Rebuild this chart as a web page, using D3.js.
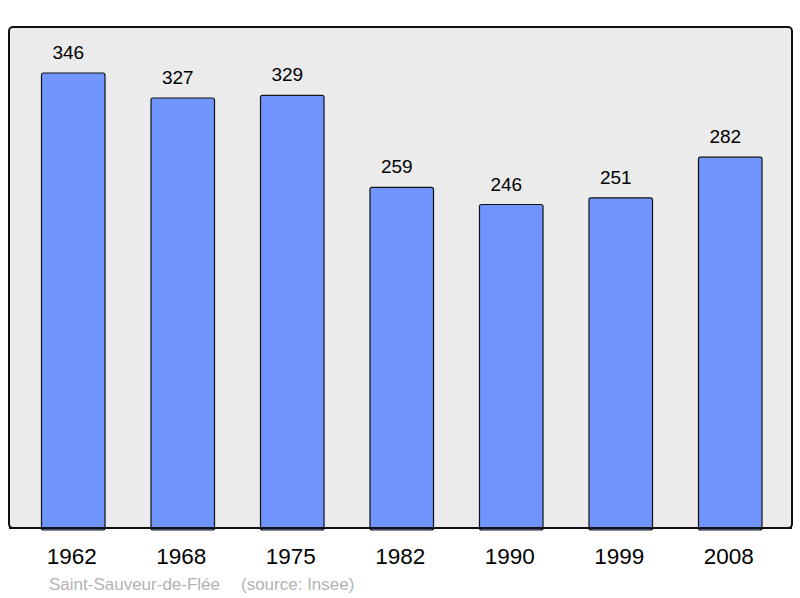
<!DOCTYPE html>
<html>
<head>
<meta charset="utf-8">
<script src="https://cdn.jsdelivr.net/npm/d3@7"></script>
<style>
  body { margin: 0; background: #fff; }
  svg text { font-family: 'Liberation Sans', Arial, sans-serif; }
</style>
</head>
<body>
<div id="chart"></div>
<script>
const years = ['1962', '1968', '1975', '1982', '1990', '1999', '2008']
const population = [346, 327, 329, 259, 246, 251, 282]
const placeName = 'Saint-Sauveur-de-Flée'
const sourceName = '(source: Insee)'

const WIDTH = 800
const HEIGHT = 598

const svg = d3.select('#chart')
  .append('svg')
  .attr('width', WIDTH)
  .attr('height', HEIGHT)

// grey panel behind the bars
svg.append('rect')
  .attr('x', 9)
  .attr('y', 27)
  .attr('width', 783)
  .attr('height', 501)
  .attr('rx', 4)
  .style('fill', '#ebebeb')
  .style('stroke', '#111')
  .style('stroke-width', 2)

const x = d3.scaleBand()
  .domain(years)
  .range([18.5, 785])
  .paddingInner(0.42)
  .paddingOuter(0.21)

const y = d3.scaleLinear()
  .domain([0, 346])
  .range([528, 73])

const data = years.map((year, i) => ({ year, value: population[i] }))

svg.selectAll('.bar')
  .data(data)
  .join('rect')
  .attr('class', 'bar')
  .attr('x', (d) => x(d.year))
  .attr('y', (d) => y(d.value))
  .attr('width', x.bandwidth())
  .attr('height', (d) => y(0) - y(d.value) + 2)
  .attr('rx', 2)
  .style('fill', '#7095ff')
  .style('stroke', '#111')
  .style('stroke-width', 1.2)

// redraw the bottom edge of the panel over the bars
svg.append('line')
  .attr('x1', 9)
  .attr('x2', 792)
  .attr('y1', 528)
  .attr('y2', 528)
  .style('stroke', '#111')
  .style('stroke-width', 2)

// value labels sit a little left of the bar centre, as in the original
svg.selectAll('.value')
  .data(data)
  .join('text')
  .attr('class', 'value')
  .attr('x', (d) => x(d.year) + x.bandwidth() / 2 - 5)
  .attr('y', (d) => y(d.value) - 14)
  .attr('text-anchor', 'middle')
  .style('font-size', '19px')
  .text((d) => d.value)

// year labels along the bottom
const xAxis = svg.append('g')
  .attr('transform', 'translate(-1.5,528)')
  .call(d3.axisBottom(x).tickSize(0).tickPadding(20))
xAxis.select('.domain').remove()
xAxis.selectAll('text')
  .attr('dy', null)
  .attr('y', 36)
  .style('font-size', '22.5px')
  .style('font-family', "'Liberation Sans', Arial, sans-serif")
  .attr('fill', '#000')

svg.append('text')
  .attr('x', 49)
  .attr('y', 590)
  .style('font-size', '17px')
  .style('fill', '#b3b3b3')
  .text(placeName)

svg.append('text')
  .attr('x', 241)
  .attr('y', 590)
  .style('font-size', '17px')
  .style('fill', '#b3b3b3')
  .text(sourceName)
</script>
</body>
</html>
